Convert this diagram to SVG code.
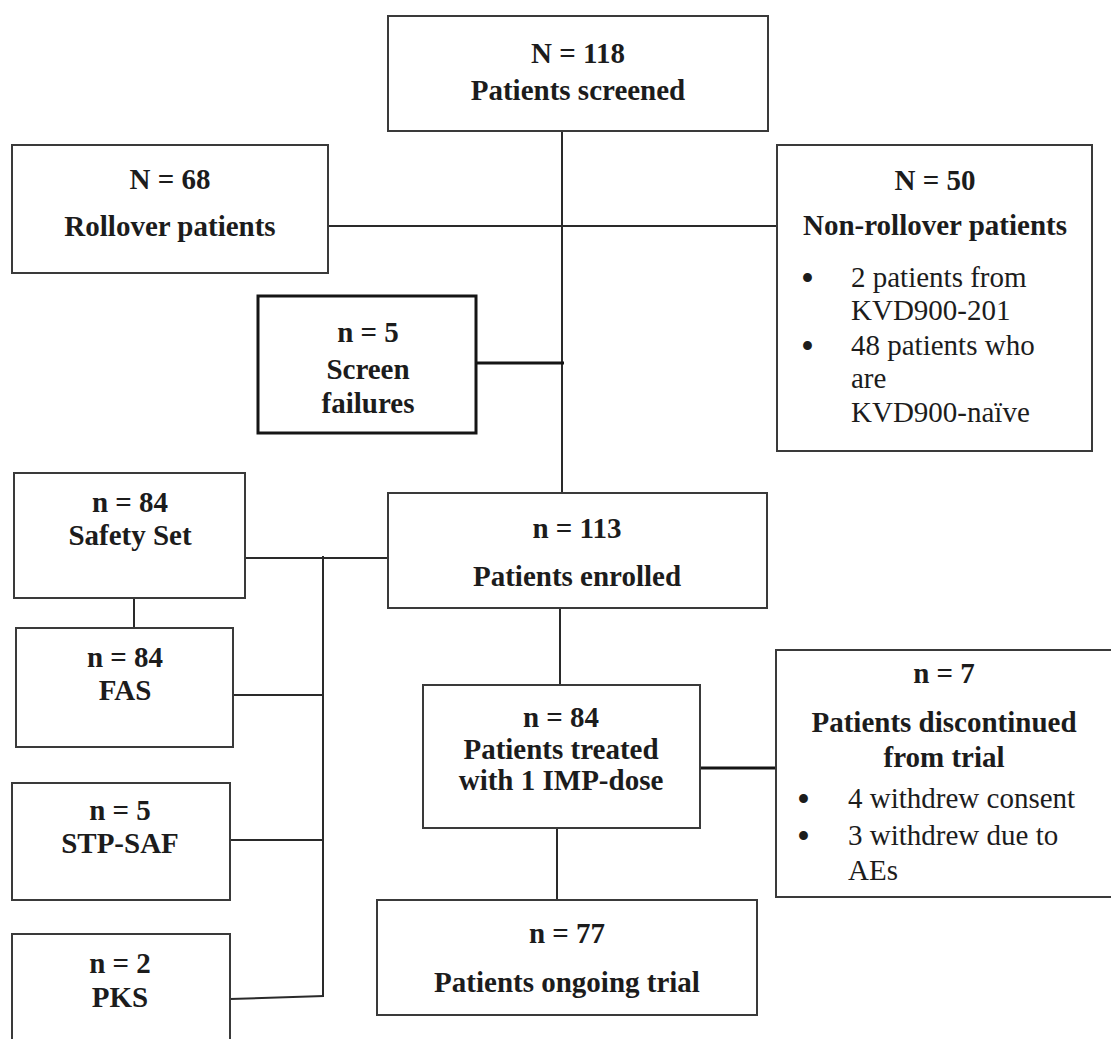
<svg xmlns="http://www.w3.org/2000/svg" width="1111" height="1039" viewBox="0 0 1111 1039">
<style>
.box{fill:#fff;stroke:#3a3a3a;stroke-width:2}
.thick{fill:#fff;stroke:#151515;stroke-width:3}
.ln{stroke:#2a2a2a;stroke-width:2;fill:none}
.lnt{stroke:#151515;stroke-width:3;fill:none}
.b{font-family:"Liberation Serif","Times New Roman",serif;font-weight:bold;font-size:29px;fill:#1c1c1c;text-anchor:middle}
.r{font-family:"Liberation Serif","Times New Roman",serif;font-size:29px;fill:#1c1c1c}
.bu{font-family:"Liberation Serif","Times New Roman",serif;font-size:37px;fill:#1c1c1c}
</style>
<rect width="1111" height="1039" fill="#fff"/>
<g id="connectors">
<line class="ln" x1="562" y1="131" x2="562" y2="493"/>
<line class="ln" x1="328" y1="226" x2="777" y2="226"/>
<line class="lnt" x1="476" y1="363" x2="564" y2="363"/>
<line class="ln" x1="560" y1="608" x2="560" y2="685"/>
<line class="lnt" x1="700" y1="768" x2="776" y2="768"/>
<line class="ln" x1="557" y1="828" x2="557" y2="900"/>
<line class="ln" x1="245" y1="558" x2="388" y2="558"/>
<line class="ln" x1="323" y1="556" x2="323" y2="997"/>
<line class="ln" x1="134" y1="598" x2="134" y2="628"/>
<line class="ln" x1="233" y1="695" x2="323" y2="695"/>
<line class="ln" x1="230" y1="840" x2="323" y2="840"/>
<line class="ln" x1="230" y1="999" x2="324" y2="996"/>
</g>
<g id="screened">
<rect class="box" x="388" y="16" width="380" height="115"/>
<text class="b" x="578" y="63">N = 118</text>
<text class="b" x="578" y="100">Patients screened</text>
</g>
<g id="rollover">
<rect class="box" x="12" y="145" width="316" height="128"/>
<text class="b" x="170" y="189">N = 68</text>
<text class="b" x="170" y="236">Rollover patients</text>
</g>
<g id="nonrollover">
<rect class="box" x="777" y="145" width="315" height="306"/>
<text class="b" x="935" y="190">N = 50</text>
<text class="b" x="935" y="235">Non-rollover patients</text>
<text class="bu" x="801" y="291">•</text>
<text class="r" x="851" y="287">2 patients from</text>
<text class="r" x="851" y="320">KVD900-201</text>
<text class="bu" x="801" y="359">•</text>
<text class="r" x="851" y="355">48 patients who</text>
<text class="r" x="851" y="388">are</text>
<text class="r" x="851" y="422">KVD900-naïve</text>
</g>
<g id="screenfail">
<rect class="thick" x="258" y="296" width="218" height="137"/>
<text class="b" x="368" y="342">n = 5</text>
<text class="b" x="368" y="379">Screen</text>
<text class="b" x="368" y="413">failures</text>
</g>
<g id="enrolled">
<rect class="box" x="388" y="493" width="379" height="115"/>
<text class="b" x="577" y="538">n = 113</text>
<text class="b" x="577" y="586">Patients enrolled</text>
</g>
<g id="treated">
<rect class="box" x="423" y="685" width="277" height="143"/>
<text class="b" x="561" y="727">n = 84</text>
<text class="b" x="561" y="759">Patients treated</text>
<text class="b" x="561" y="790">with 1 IMP-dose</text>
</g>
<g id="discontinued">
<rect class="box" x="776" y="650" width="340" height="247"/>
<text class="b" x="944" y="683">n = 7</text>
<text class="b" x="944" y="732">Patients discontinued</text>
<text class="b" x="944" y="767">from trial</text>
<text class="bu" x="797" y="812">•</text>
<text class="r" x="848" y="808">4 withdrew consent</text>
<text class="bu" x="797" y="849">•</text>
<text class="r" x="848" y="845">3 withdrew due to</text>
<text class="r" x="848" y="880">AEs</text>
</g>
<g id="ongoing">
<rect class="box" x="377" y="900" width="380" height="115"/>
<text class="b" x="567" y="943">n = 77</text>
<text class="b" x="567" y="992">Patients ongoing trial</text>
</g>
<g id="safety">
<rect class="box" x="14" y="473" width="231" height="125"/>
<text class="b" x="130" y="512">n = 84</text>
<text class="b" x="130" y="545">Safety Set</text>
</g>
<g id="fas">
<rect class="box" x="16" y="628" width="217" height="119"/>
<text class="b" x="125" y="667">n = 84</text>
<text class="b" x="125" y="700">FAS</text>
</g>
<g id="stpsaf">
<rect class="box" x="12" y="783" width="218" height="117"/>
<text class="b" x="120" y="820">n = 5</text>
<text class="b" x="120" y="853">STP-SAF</text>
</g>
<g id="pks">
<rect class="box" x="12" y="934" width="218" height="120"/>
<text class="b" x="120" y="973">n = 2</text>
<text class="b" x="120" y="1007">PKS</text>
</g>
</svg>
